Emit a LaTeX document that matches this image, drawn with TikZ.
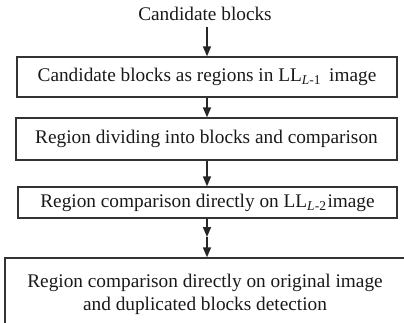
\documentclass[tikz,border=0pt]{standalone}
\usepackage{fontspec}
\setmainfont{Liberation Serif}
\usetikzlibrary{arrows.meta}
\begin{document}
\begin{tikzpicture}[x=1pt,y=-1pt,
  every node/.style={font=\fontsize{19.3}{23.2}\selectfont, text=black!90},
  stage/.style={draw=black!80, line width=1.3pt, rectangle, inner sep=0pt, align=center},
  flow/.style={draw=black!85, line width=1.5pt, -{Triangle[length=10pt,width=8pt]}}
]
  \useasboundingbox (0,0) rectangle (404,322);
  \clip (0,0) rectangle (404,322);

  % source label
  \node[inner sep=0pt, anchor=base] (title) at (205,20) {Candidate blocks};
  \coordinate (t0) at (207,27);

  % processing stages
  \node[stage, minimum width=380pt, minimum height=40pt] (s1) at (207,77)
    {Candidate blocks as regions in LL\textsubscript{\textit{L}-1}\ \,image};
  \node[stage, minimum width=381pt, minimum height=42pt] (s2) at (206.5,139)
    {Region dividing into blocks and comparison};
  \node[stage, minimum width=379pt, minimum height=31pt] (s3) at (207.5,202.5)
    {Region comparison directly on LL\textsubscript{\textit{L}-2}\hspace{1pt}image};
  \node[stage, minimum width=400pt, minimum height=72pt] (s4) at (205,294)
    {Region comparison directly on original image\\and duplicated blocks detection};

  % connectors
  \coordinate (m) at (207,237);
  \draw[flow] (t0) -- (t0 |- s1.north);
  \draw[flow] (s1.south -| t0) -- (s2.north -| t0);
  \draw[flow] (s2.south -| t0) -- (s3.north -| t0);
  \draw[flow] (s3.south -| t0) -- (m);
  \draw[flow] (m) -- (m |- s4.north);
\end{tikzpicture}
\end{document}
